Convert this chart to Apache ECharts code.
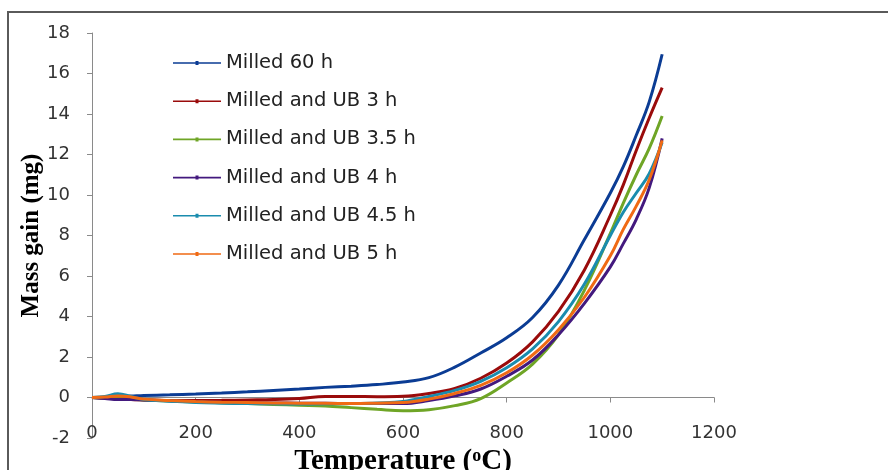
<!DOCTYPE html>
<html>
<head>
<meta charset="utf-8">
<script src="https://cdn.jsdelivr.net/npm/echarts@6/dist/echarts.min.js"></script>
<style>
  html, body { margin: 0; padding: 0; background: #fff; }
  #chart { width: 888px; height: 470px; }
</style>
</head>
<body>
<div id="chart"></div>
<script>
// temperatures (°C) shared by all curves
var temps = [0, 25, 50, 75, 100, 150, 200, 250, 300, 350, 400, 450, 500, 550, 600, 650, 700, 750, 800, 850, 900, 950, 1000, 1025, 1050, 1075, 1100];

// mass gain (mg)
var milled60 = [0, 0, 0.05, 0.07, 0.1, 0.13, 0.17, 0.22, 0.28, 0.35, 0.42, 0.5, 0.56, 0.64, 0.76, 0.98, 1.5, 2.2, 2.95, 3.95, 5.55, 7.8, 10.1, 11.4, 12.95, 14.6, 16.95];
var ub3 = [0, -0.03, -0.05, -0.1, -0.12, -0.15, -0.15, -0.14, -0.12, -0.1, -0.05, 0.05, 0.05, 0.04, 0.06, 0.2, 0.45, 0.95, 1.7, 2.75, 4.25, 6.3, 9.0, 10.5, 12.2, 13.8, 15.3];
var ub35 = [0, -0.03, -0.05, -0.08, -0.12, -0.17, -0.22, -0.26, -0.3, -0.34, -0.38, -0.42, -0.5, -0.58, -0.65, -0.6, -0.4, -0.05, 0.72, 1.65, 3.1, 5.3, 8.1, 9.6, 11.0, 12.3, 13.9];
var ub4 = [0, -0.05, -0.1, -0.1, -0.12, -0.16, -0.2, -0.23, -0.25, -0.27, -0.28, -0.29, -0.3, -0.3, -0.3, -0.15, 0.08, 0.42, 1.05, 1.85, 3.1, 4.65, 6.45, 7.6, 8.8, 10.35, 12.8];
var ub45 = [0, 0.05, 0.18, 0.05, -0.1, -0.18, -0.25, -0.28, -0.3, -0.31, -0.32, -0.31, -0.3, -0.27, -0.2, 0.05, 0.35, 0.8, 1.47, 2.4, 3.75, 5.6, 8.0, 9.15, 10.1, 11.05, 12.6];
var ub5 = [0, 0.02, 0.08, 0.03, -0.08, -0.15, -0.2, -0.23, -0.25, -0.27, -0.28, -0.29, -0.3, -0.28, -0.25, -0.08, 0.2, 0.6, 1.22, 2.1, 3.35, 4.95, 7.0, 8.3, 9.45, 10.75, 12.7];

var seriesNames = ['Milled 60 h', 'Milled and UB 3 h', 'Milled and UB 3.5 h', 'Milled and UB 4 h', 'Milled and UB 4.5 h', 'Milled and UB 5 h'];
var seriesValues = [milled60, ub3, ub35, ub4, ub45, ub5];
var colors = ['#0b3c94', '#9a0b0b', '#6fa526', '#43197e', '#1a8cae', '#f06a14'];

var xTicks = { min: 0, max: 1200, interval: 200 };
var yTicks = { min: -2, max: 18, interval: 2 };

var chart = echarts.init(document.getElementById('chart'));

// legend icon: thin line with a small dot in the middle
var legendIcon = 'path://M0,1.2H48V2.8H0Z M22.5,0H25.5V4H22.5Z';

var series = seriesNames.map(function (name, i) {
    return {
        name: name,
        type: 'line',
        smooth: 0.4,
        showSymbol: false,
        symbol: 'circle',
        symbolSize: 3,
        lineStyle: { width: 3, color: colors[i] },
        itemStyle: { color: colors[i] },
        data: temps.map(function (t, k) { return [t, seriesValues[i][k]]; })
    };
});

var option = {
    animation: false,
    backgroundColor: '#fff',
    color: colors,
    grid: { left: 92, right: 174, top: 33, bottom: 32, outerBoundsMode: 'none', containLabel: false },
    legend: {
        orient: 'vertical',
        left: 173,
        top: 53,
        padding: 0,
        itemWidth: 48,
        itemHeight: 4,
        itemGap: 18.2,
        icon: legendIcon,
        textStyle: { fontFamily: 'DejaVu Sans', fontSize: 19.5, color: '#222', lineHeight: 19 },
        data: seriesNames
    },
    xAxis: {
        type: 'value',
        min: xTicks.min,
        max: xTicks.max,
        interval: xTicks.interval,
        splitLine: { show: false },
        axisLine: { show: true, onZero: true, lineStyle: { color: '#8a8a8a', width: 1 } },
        axisTick: { show: true, length: 5, lineStyle: { color: '#8a8a8a' } },
        // labels and name sit at the grid's bottom edge (value -2), not on the zero line
        axisLabel: {
            margin: -14, fontFamily: 'DejaVu Sans', fontSize: 18, color: '#333',
            formatter: function (v) { return String(v); }
        },
        name: 'Temperature ({sup|o}C)',
        nameLocation: 'middle',
        nameGap: 9,
        nameMoveOverlap: false,
        nameTextStyle: {
            fontFamily: 'Liberation Serif', fontWeight: 'bold', fontSize: 29, color: '#000',
            verticalAlign: 'top',
            rich: {
                sup: { fontFamily: 'Liberation Serif', fontSize: 18, verticalAlign: 'top', padding: [0, 0, 11, 0] }
            }
        }
    },
    yAxis: {
        type: 'value',
        min: yTicks.min,
        max: yTicks.max,
        interval: yTicks.interval,
        splitLine: { show: false },
        axisLine: { show: true, lineStyle: { color: '#8a8a8a', width: 1 } },
        axisTick: { show: true, length: 5, lineStyle: { color: '#8a8a8a' } },
        axisLabel: { margin: 22, fontFamily: 'DejaVu Sans', fontSize: 18, color: '#333' },
        name: 'Mass gain (mg)',
        nameLocation: 'middle',
        nameGap: 48,
        nameMoveOverlap: false,
        nameTextStyle: { fontFamily: 'Liberation Serif', fontWeight: 'bold', fontSize: 25, color: '#000' }
    },
    graphic: [{
        type: 'rect',
        shape: { x: 8, y: 12, width: 900, height: 480 },
        style: { fill: 'none', stroke: '#5a5a5a', lineWidth: 2 },
        silent: true
    }],
    series: series
};

chart.setOption(option);
</script>
</body>
</html>
